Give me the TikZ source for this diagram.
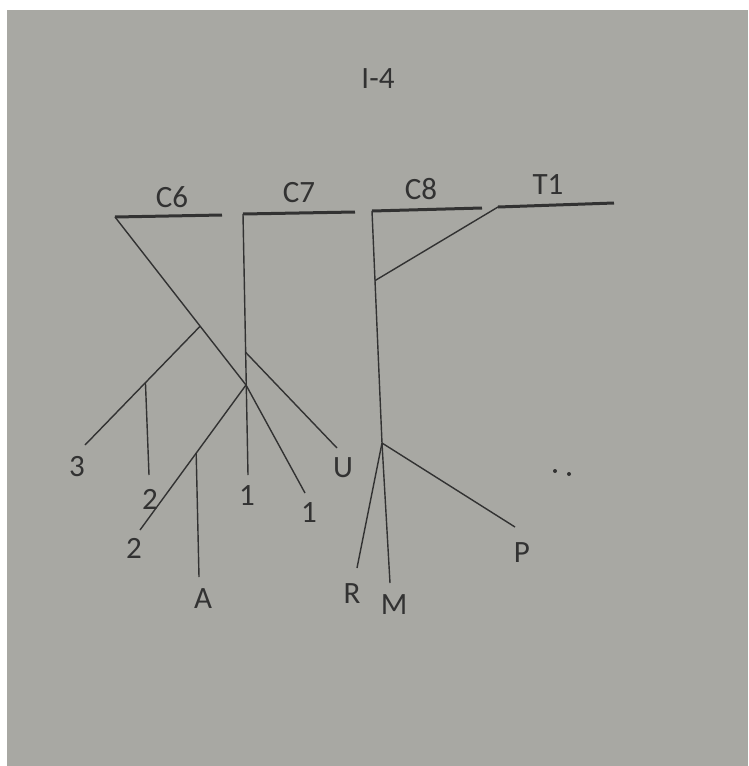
\documentclass[tikz,border=0pt]{standalone}
\usepackage{fontspec}
\setmainfont{Carlito}
\usetikzlibrary{calc}

\definecolor{paper}{RGB}{168,168,163}
\definecolor{ink}{RGB}{50,50,50}

\newcommand*{\picw}{748}
\newcommand*{\pich}{766}

\begin{document}
\begin{tikzpicture}
[
	x=1pt, y=-1pt,
	bar/.style={ink, line width=3pt},
	nerve/.style={ink, line width=1.4pt},
	lbl/.style={text=ink, font=\fontsize{31}{31}\selectfont, inner sep=0pt},
	dotpt/.style={circle, fill=ink, inner sep=0pt, minimum size=4pt}
]

	% paper
	\fill[white] (0,0) rectangle (\picw,\pich);
	\fill[paper] (7,10) rectangle (\picw,\pich);

	% title
	\node[lbl] (title) at (378,79) {I-4};

	% roots
	\coordinate (c6l) at (115,217); \coordinate (c6r) at (222,215);
	\coordinate (c7l) at (243,214); \coordinate (c7r) at (355,212);
	\coordinate (c8l) at (372,211); \coordinate (c8r) at (482,208);
	\coordinate (t1l) at (498,207); \coordinate (t1r) at (614,203);
	\draw[bar] (c6l) -- (c6r);
	\draw[bar] (c7l) -- (c7r);
	\draw[bar] (c8l) -- (c8r);
	\draw[bar] (t1l) -- (t1r);
	\node[lbl] (C6) at (172,197) {C6};
	\node[lbl] (C7) at (299,193) {C7};
	\node[lbl] (C8) at (421,189) {C8};
	\node[lbl] (T1) at (548,185) {T1};

	% ends
	\coordinate (e3) at (85,445);
	\coordinate (e2a) at (149,475);
	\coordinate (e2b) at (140,530);
	\coordinate (eA) at (199,577);
	\coordinate (e1a) at (248,475);
	\coordinate (e1b) at (305,493);
	\coordinate (eU) at (337,448);
	\coordinate (eR) at (357,568);
	\coordinate (eM) at (390,583);
	\coordinate (eP) at (515,527);

	% junctions
	\coordinate (j1) at (246,385);
	\coordinate (j2) at (382,443);
	\coordinate (j6) at ($(c6l)!0.65!(j1)$);
	\coordinate (jU) at ($(c7l)!0.53!(e1a)$);
	\coordinate (j3) at ($(j6)!0.475!(e3)$);
	\coordinate (jA) at ($(j1)!0.47!(e2b)$);
	\coordinate (jT) at ($(c8l)!0.30!(j2)$);

	% C6 / C7
	\draw[nerve] (c6l) -- (j1);
	\draw[nerve] (c7l) -- (e1a);
	\draw[nerve] (j6) -- (e3);
	\draw[nerve] (j3) -- (e2a);
	\draw[nerve] (jU) -- (eU);
	\draw[nerve] (j1) -- (e2b);
	\draw[nerve] (jA) -- (eA);
	\draw[nerve] (j1) -- (e1b);

	% C8 / T1
	\draw[nerve] (c8l) -- (j2);
	\draw[nerve] (t1l) -- (jT);
	\draw[nerve] (j2) -- (eR);
	\draw[nerve] (j2) -- (eM);
	\draw[nerve] (j2) -- (eP);

	% labels
	\node[lbl] (l3) at (77,467) {3};
	\node[lbl] (l2a) at (150,499) {2};
	\node[lbl] (l2b) at (134,548) {2};
	\node[lbl] (lA) at (203,599) {A};
	\node[lbl] (l1a) at (247,496) {1};
	\node[lbl] (l1b) at (309,513) {1};
	\node[lbl] (lU) at (343,468) {U};
	\node[lbl] (lR) at (352,594) {R};
	\node[lbl] (lM) at (394,605) {M};
	\node[lbl] (lP) at (522,553) {P};

	% dots
	\node[dotpt] (d1) at (555,471) {};
	\node[dotpt] (d2) at (569,474) {};

\end{tikzpicture}
\end{document}
